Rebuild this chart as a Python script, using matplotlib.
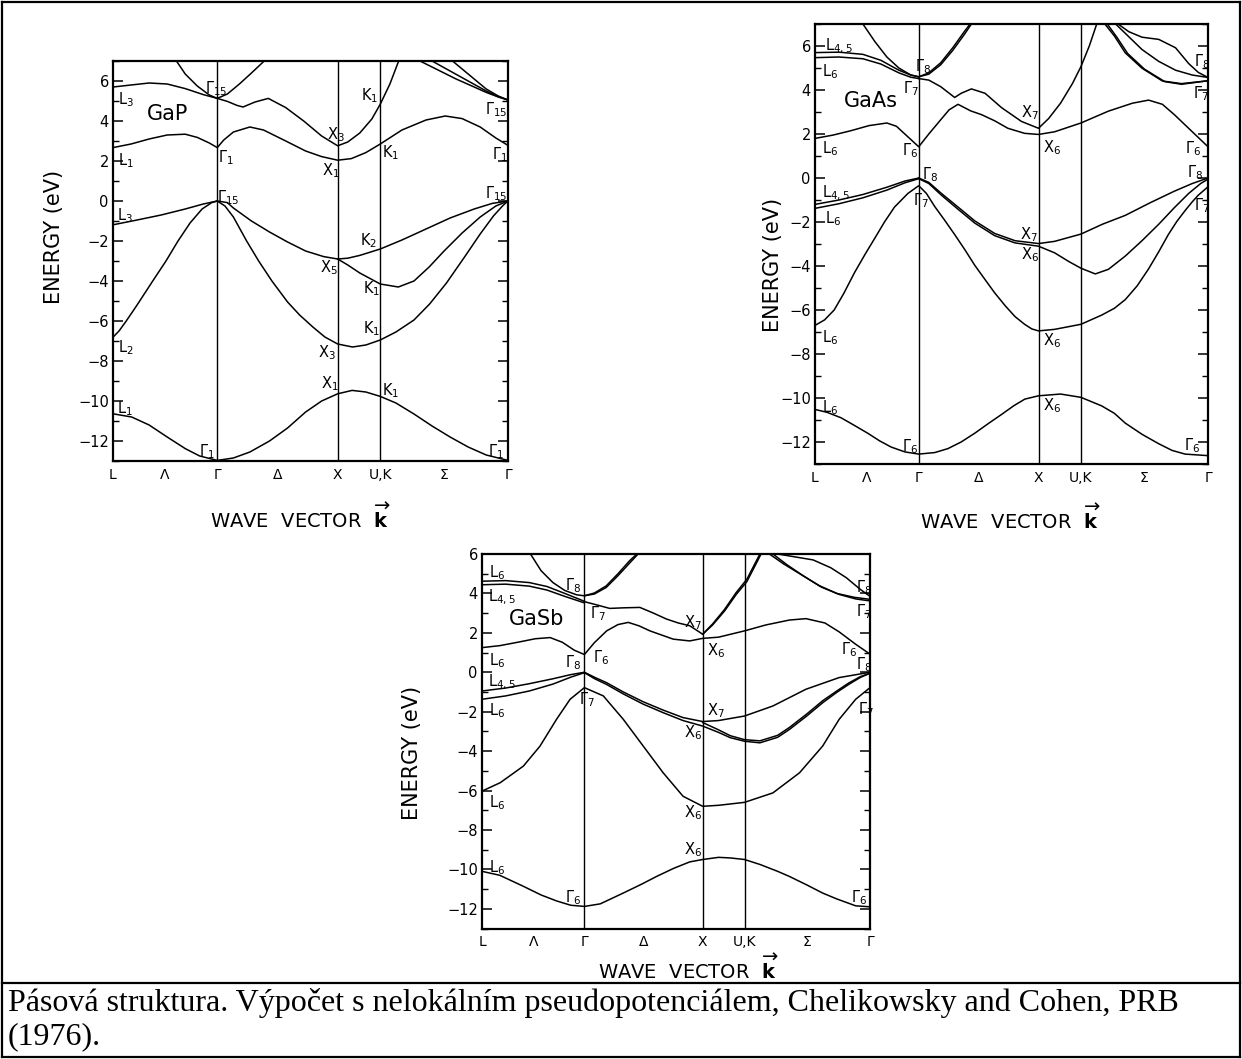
import numpy as np
import matplotlib
matplotlib.use('Agg')
import matplotlib.pyplot as plt
from matplotlib.lines import Line2D
from matplotlib.ticker import MultipleLocator

W, H = 1242, 1059

# ================= PATH (units of 2*pi/a) =================
K_L, K_G, K_X, K_U, K_G2 = 0.0, 0.866, 1.866, 2.220, 3.281
XTICK_POS = [K_L, (K_L + K_G) / 2, K_G, (K_G + K_X) / 2, K_X, K_U, (K_U + K_G2) / 2, K_G2]
XTICK_LAB = ['L', 'Λ', 'Γ', 'Δ', 'X', 'U,K', 'Σ', 'Γ']
YTICKS = [6, 4, 2, 0, -2, -4, -6, -8, -10, -12]

# ================= GaP =================
GAP_VALENCE = [
    [(0, -10.64), (0.155, -10.80), (0.30, -11.20), (0.45, -11.80), (0.60, -12.38), (0.72, -12.75),
     (0.866, -12.97), (1.00, -12.85), (1.137, -12.55), (1.30, -12.00), (1.45, -11.35), (1.60, -10.55),
     (1.733, -10.00), (1.866, -9.64), (1.986, -9.47), (2.10, -9.55), (2.22, -9.77), (2.35, -10.10),
     (2.50, -10.65), (2.65, -11.25), (2.80, -11.80), (2.95, -12.30), (3.10, -12.70), (3.281, -12.97)],
    [(0, -6.81), (0.05, -6.50), (0.11, -6.00), (0.20, -5.20), (0.33, -4.00), (0.44, -3.00), (0.54, -2.00),
     (0.64, -1.10), (0.74, -0.40), (0.82, -0.08), (0.866, 0.0), (0.93, -0.25), (1.00, -0.80),
     (1.11, -2.00), (1.21, -3.00), (1.32, -4.00), (1.45, -5.05), (1.55, -5.70), (1.66, -6.30),
     (1.76, -6.80), (1.866, -7.15), (1.99, -7.30), (2.10, -7.20), (2.22, -6.95), (2.35, -6.55),
     (2.50, -5.95), (2.63, -5.15), (2.77, -4.10), (2.92, -2.80), (3.05, -1.65), (3.16, -0.75),
     (3.24, -0.22), (3.281, 0.0)],
    [(0, -1.19), (0.20, -0.95), (0.40, -0.70), (0.60, -0.40), (0.75, -0.15), (0.866, 0.0)],
    [(0.866, 0.0), (0.95, -0.08), (1.00, -0.35), (1.15, -1.00), (1.30, -1.55), (1.45, -2.05), (1.60, -2.50),
     (1.75, -2.78), (1.866, -2.90), (1.95, -2.86), (2.05, -2.72), (2.22, -2.40), (2.40, -1.95),
     (2.60, -1.40), (2.80, -0.85), (3.00, -0.40), (3.15, -0.12), (3.281, 0.0)],
    [(1.866, -2.90), (1.95, -3.20), (2.05, -3.60), (2.22, -4.15), (2.37, -4.30), (2.50, -4.00),
     (2.626, -3.30), (2.75, -2.50), (2.90, -1.60), (3.05, -0.80), (3.18, -0.25), (3.281, 0.0)],
]
GAP_CONDUCTION = [
    [(0, 2.67), (0.15, 2.85), (0.30, 3.10), (0.45, 3.30), (0.60, 3.34), (0.70, 3.18), (0.80, 2.90),
     (0.866, 2.67), (0.92, 3.05), (1.00, 3.45), (1.137, 3.70), (1.25, 3.55), (1.435, 3.00), (1.60, 2.50),
     (1.733, 2.22), (1.866, 2.04), (1.98, 2.12), (2.10, 2.42), (2.22, 2.85), (2.40, 3.55), (2.60, 4.05),
     (2.76, 4.25), (2.90, 4.12), (3.05, 3.70), (3.18, 3.15), (3.281, 2.78)],
    [(0, 5.70), (0.15, 5.80), (0.30, 5.90), (0.45, 5.85), (0.60, 5.62), (0.75, 5.32), (0.866, 5.13)],
    [(0.866, 5.13), (0.95, 4.98), (1.03, 4.78), (1.08, 4.70), (1.18, 4.95), (1.29, 5.13), (1.435, 4.67),
     (1.584, 4.00), (1.733, 3.25), (1.866, 2.76), (1.95, 2.95), (2.05, 3.40), (2.15, 4.10), (2.22, 4.84),
     (2.30, 5.85), (2.373, 7.0)],
    [(0.527, 7.0), (0.60, 6.35), (0.70, 5.75), (0.80, 5.30), (0.866, 5.13), (0.95, 5.35), (1.05, 5.85),
     (1.15, 6.40), (1.256, 7.0)],
    [(2.55, 7.0), (2.70, 6.55), (2.85, 6.10), (3.00, 5.70), (3.10, 5.43), (3.20, 5.20), (3.281, 5.05)],
    [(2.65, 7.0), (2.80, 6.50), (2.95, 6.00), (3.10, 5.50), (3.20, 5.22), (3.281, 5.05)],
    [(2.82, 7.0), (2.96, 6.30), (3.10, 5.60), (3.20, 5.25), (3.281, 5.05)],
]
GAP_LABELS = [
    (0.11, 5.08, r'$\mathrm{L}_3$'), (0.86, 5.63, r'$\Gamma_{15}$'), (2.13, 5.25, r'$\mathrm{K}_1$'),
    (1.85, 3.34, r'$\mathrm{X}_3$'), (3.18, 4.59, r'$\Gamma_{15}$'), (0.11, 2.04, r'$\mathrm{L}_1$'),
    (0.94, 2.17, r'$\Gamma_1$'), (1.81, 1.54, r'$\mathrm{X}_1$'), (2.31, 2.42, r'$\mathrm{K}_1$'),
    (3.21, 2.34, r'$\Gamma_1$'), (0.96, 0.18, r'$\Gamma_{15}$'), (3.18, 0.38, r'$\Gamma_{15}$'),
    (0.10, -0.74, r'$\mathrm{L}_3$'), (2.12, -1.99, r'$\mathrm{K}_2$'), (1.79, -3.32, r'$\mathrm{X}_5$'),
    (2.15, -4.40, r'$\mathrm{K}_1$'), (2.15, -6.40, r'$\mathrm{K}_1$'), (0.11, -7.31, r'$\mathrm{L}_2$'),
    (1.78, -7.56, r'$\mathrm{X}_3$'), (1.80, -9.14, r'$\mathrm{X}_1$'), (2.31, -9.47, r'$\mathrm{K}_1$'),
    (0.10, -10.39, r'$\mathrm{L}_1$'), (0.78, -12.55, r'$\Gamma_1$'), (3.18, -12.55, r'$\Gamma_1$'),
]

# ================= GaAs =================
GAAS_VALENCE = [
    [(0, -10.52), (0.10, -10.65), (0.218, -10.90), (0.33, -11.25), (0.44, -11.60), (0.54, -11.95),
     (0.636, -12.23), (0.75, -12.45), (0.866, -12.55), (1.00, -12.48), (1.11, -12.30), (1.22, -12.00),
     (1.334, -11.60), (1.45, -11.15), (1.557, -10.75), (1.66, -10.35), (1.752, -10.05), (1.866, -9.90),
     (2.05, -9.82), (2.22, -9.97), (2.394, -10.36), (2.50, -10.70), (2.59, -11.14), (2.73, -11.65),
     (2.87, -12.08), (2.98, -12.38), (3.09, -12.55), (3.281, -12.62)],
    [(0, -6.70), (0.08, -6.45), (0.16, -6.00), (0.24, -5.25), (0.33, -4.30), (0.42, -3.45), (0.50, -2.73),
     (0.58, -2.00), (0.664, -1.32), (0.776, -0.70), (0.866, -0.35), (0.93, -0.70), (1.00, -1.30),
     (1.08, -1.90), (1.166, -2.57), (1.25, -3.25), (1.334, -3.97), (1.42, -4.62), (1.50, -5.22),
     (1.59, -5.82), (1.67, -6.30), (1.75, -6.65), (1.81, -6.86), (1.866, -6.95), (2.00, -6.88),
     (2.22, -6.65), (2.394, -6.23), (2.50, -5.92), (2.59, -5.53), (2.69, -4.90), (2.785, -4.13),
     (2.87, -3.35), (2.95, -2.57), (3.02, -1.98), (3.09, -1.48), (3.15, -1.08), (3.20, -0.78),
     (3.281, -0.40)],
    [(0, -1.20), (0.20, -1.00), (0.40, -0.75), (0.60, -0.42), (0.75, -0.14), (0.866, 0.0)],
    [(0, -1.38), (0.20, -1.17), (0.40, -0.90), (0.60, -0.55), (0.75, -0.22), (0.866, -0.03)],
    [(0.866, 0.0), (0.95, -0.20), (1.055, -0.70), (1.194, -1.32), (1.334, -1.95), (1.50, -2.52),
     (1.67, -2.85), (1.866, -2.98), (2.00, -2.88), (2.22, -2.55), (2.40, -2.10), (2.59, -1.70),
     (2.80, -1.12), (3.00, -0.60), (3.15, -0.25), (3.281, 0.0)],
    [(0.866, -0.03), (0.95, -0.25), (1.055, -0.78), (1.194, -1.42), (1.334, -2.05), (1.50, -2.62),
     (1.67, -2.95), (1.866, -3.10), (2.00, -3.40), (2.12, -3.80), (2.22, -4.10), (2.34, -4.36),
     (2.45, -4.15), (2.59, -3.55), (2.73, -2.85), (2.87, -2.10), (3.00, -1.35), (3.12, -0.70),
     (3.22, -0.25), (3.281, -0.05)],
]
GAAS_CONDUCTION = [
    [(0, 1.80), (0.15, 1.95), (0.30, 2.15), (0.45, 2.38), (0.60, 2.50), (0.68, 2.35), (0.76, 1.95),
     (0.866, 1.42), (0.95, 2.00), (1.05, 2.65), (1.12, 3.10), (1.194, 3.35), (1.30, 3.05), (1.39, 2.88),
     (1.50, 2.60), (1.61, 2.26), (1.75, 2.03), (1.866, 1.98), (2.00, 2.10), (2.22, 2.50), (2.45, 3.04),
     (2.65, 3.40), (2.785, 3.54), (2.90, 3.35), (3.00, 2.88), (3.15, 2.10), (3.281, 1.42)],
    [(0, 5.70), (0.20, 5.72), (0.40, 5.62), (0.55, 5.35), (0.70, 4.90), (0.80, 4.68), (0.866, 4.60)],
    [(0, 5.47), (0.20, 5.50), (0.40, 5.42), (0.55, 5.18), (0.70, 4.78), (0.80, 4.58), (0.866, 4.52)],
    [(0.40, 7.0), (0.50, 6.20), (0.60, 5.50), (0.70, 5.00), (0.80, 4.68), (0.866, 4.60), (0.95, 4.72),
     (1.05, 5.15), (1.15, 5.80), (1.25, 6.55), (1.306, 7.0)],
    [(0.866, 4.60), (0.95, 4.78), (1.05, 5.24), (1.15, 5.92), (1.25, 6.68), (1.295, 7.0)],
    [(0.866, 4.52), (0.95, 4.45), (1.05, 4.15), (1.166, 3.66), (1.22, 3.85), (1.306, 4.05), (1.42, 3.85),
     (1.557, 3.20), (1.724, 2.57), (1.866, 2.26), (1.95, 2.70), (2.05, 3.40), (2.15, 4.30), (2.22, 5.06),
     (2.29, 6.00), (2.352, 7.0)],
    [(2.42, 7.0), (2.50, 6.45), (2.59, 5.69), (2.73, 4.99), (2.90, 4.41), (3.06, 4.29), (3.281, 4.42)],
    [(2.44, 7.0), (2.52, 6.40), (2.61, 5.66), (2.75, 4.95), (2.92, 4.38), (3.06, 4.26), (3.281, 4.42)],
    [(2.51, 7.0), (2.73, 5.84), (2.87, 5.30), (3.01, 4.90), (3.15, 4.68), (3.281, 4.57)],
    [(2.53, 7.0), (2.62, 6.65), (2.73, 6.40), (2.87, 6.30), (3.01, 5.92), (3.12, 5.20), (3.20, 4.80),
     (3.281, 4.57)],
]
GAAS_LABELS = [
    (0.20, 6.00, r'$\mathrm{L}_{4,5}$'), (0.13, 4.83, r'$\mathrm{L}_6$'), (0.90, 5.06, r'$\Gamma_8$'),
    (0.80, 4.05, r'$\Gamma_7$'), (1.79, 2.96, r'$\mathrm{X}_7$'), (1.975, 1.40, r'$\mathrm{X}_6$'),
    (0.13, 1.32, r'$\mathrm{L}_6$'), (0.79, 1.25, r'$\Gamma_6$'), (3.16, 1.32, r'$\Gamma_6$'),
    (3.23, 5.30, r'$\Gamma_8$'), (3.22, 3.82, r'$\Gamma_7$'), (0.957, 0.16, r'$\Gamma_8$'),
    (0.887, -1.01, r'$\Gamma_7$'), (0.17, -0.70, r'$\mathrm{L}_{4,5}$'), (0.15, -1.87, r'$\mathrm{L}_6$'),
    (3.175, 0.23, r'$\Gamma_8$'), (3.23, -1.25, r'$\Gamma_7$'), (1.786, -2.57, r'$\mathrm{X}_7$'),
    (1.794, -3.50, r'$\mathrm{X}_6$'), (0.13, -7.25, r'$\mathrm{L}_6$'), (1.975, -7.40, r'$\mathrm{X}_6$'),
    (0.13, -10.44, r'$\mathrm{L}_6$'), (1.975, -10.36, r'$\mathrm{X}_6$'), (0.79, -12.23, r'$\Gamma_6$'),
    (3.15, -12.15, r'$\Gamma_6$'),
]

# ================= GaSb =================
GASB_VALENCE = [
    [(0, -10.10), (0.15, -10.30), (0.35, -10.86), (0.50, -11.30), (0.63, -11.60), (0.75, -11.82),
     (0.866, -11.88), (1.00, -11.75), (1.195, -11.20), (1.35, -10.75), (1.476, -10.36), (1.62, -9.95),
     (1.757, -9.62), (1.866, -9.50), (2.00, -9.39), (2.10, -9.42), (2.22, -9.50), (2.35, -9.75),
     (2.50, -10.10), (2.60, -10.36), (2.75, -10.80), (2.88, -11.20), (3.00, -11.50), (3.16, -11.85),
     (3.281, -11.90)],
    [(0, -6.03), (0.155, -5.60), (0.35, -4.76), (0.49, -3.75), (0.63, -2.39), (0.745, -1.37), (0.866, -0.78),
     (1.026, -1.20), (1.195, -2.39), (1.364, -3.75), (1.532, -5.10), (1.70, -6.29), (1.866, -6.80),
     (2.00, -6.75), (2.22, -6.60), (2.46, -6.12), (2.685, -5.10), (2.88, -3.75), (3.02, -2.39),
     (3.16, -1.37), (3.281, -0.78)],
    [(0, -0.95), (0.20, -0.80), (0.40, -0.58), (0.60, -0.33), (0.75, -0.12), (0.866, 0.0)],
    [(0, -1.37), (0.20, -1.20), (0.40, -0.95), (0.60, -0.60), (0.75, -0.25), (0.866, -0.02)],
    [(0.866, 0.0), (0.95, -0.25), (1.054, -0.53), (1.195, -1.00), (1.364, -1.50), (1.532, -1.92),
     (1.70, -2.30), (1.866, -2.50), (2.00, -2.45), (2.22, -2.22), (2.46, -1.71), (2.74, -0.86),
     (3.02, -0.27), (3.281, 0.0)],
    [(0.866, -0.02), (0.95, -0.32), (1.054, -0.62), (1.195, -1.10), (1.364, -1.62), (1.532, -2.05),
     (1.70, -2.45), (1.866, -2.73), (2.00, -3.05), (2.10, -3.32), (2.22, -3.50), (2.35, -3.58),
     (2.50, -3.30), (2.60, -2.90), (2.75, -2.20), (2.88, -1.55), (3.00, -1.02), (3.10, -0.62),
     (3.20, -0.26), (3.281, -0.05)],
    [(1.866, -2.55), (2.00, -2.92), (2.10, -3.22), (2.22, -3.42), (2.35, -3.48), (2.50, -3.20),
     (2.60, -2.80), (2.75, -2.10), (2.88, -1.45), (3.00, -0.95), (3.10, -0.55), (3.20, -0.22),
     (3.281, -0.05)],
]
GASB_CONDUCTION = [
    [(0, 1.25), (0.15, 1.35), (0.30, 1.52), (0.45, 1.70), (0.576, 1.76), (0.68, 1.52), (0.78, 1.12),
     (0.866, 0.90), (0.95, 1.50), (1.054, 2.10), (1.15, 2.42), (1.237, 2.53), (1.33, 2.35), (1.42, 2.10),
     (1.617, 1.68), (1.757, 1.59), (1.866, 1.72), (2.00, 1.78), (2.22, 2.10), (2.40, 2.40), (2.60, 2.65),
     (2.74, 2.72), (2.90, 2.50), (3.02, 2.05), (3.16, 1.42), (3.281, 0.92)],
    [(0, 4.62), (0.20, 4.65), (0.40, 4.55), (0.55, 4.35), (0.70, 4.00), (0.866, 3.60)],
    [(0, 4.44), (0.20, 4.47), (0.40, 4.37), (0.55, 4.17), (0.70, 3.85), (0.866, 3.52)],
    [(0.41, 6.0), (0.50, 5.15), (0.60, 4.55), (0.70, 4.15), (0.80, 3.93), (0.866, 3.88), (0.95, 3.97),
     (1.05, 4.30), (1.15, 4.90), (1.25, 5.55), (1.32, 6.0)],
    [(0.866, 3.88), (0.95, 4.02), (1.05, 4.38), (1.15, 5.00), (1.25, 5.67), (1.31, 6.0)],
    [(0.866, 3.58), (0.95, 3.45), (1.08, 3.24), (1.20, 3.27), (1.335, 3.29), (1.45, 3.00), (1.56, 2.70),
     (1.66, 2.50), (1.757, 2.36), (1.866, 1.93), (1.95, 2.40), (2.05, 3.10), (2.15, 3.95), (2.24, 4.60),
     (2.30, 5.30), (2.36, 6.0)],
    [(1.866, 1.93), (1.95, 2.45), (2.05, 3.18), (2.15, 4.05), (2.24, 4.72), (2.30, 5.42), (2.35, 6.0)],
    [(2.43, 6.0), (2.55, 5.50), (2.70, 4.95), (2.85, 4.40), (3.00, 4.00), (3.15, 3.80), (3.281, 3.70)],
    [(2.46, 6.0), (2.58, 5.45), (2.72, 4.88), (2.87, 4.32), (3.02, 3.95), (3.16, 3.72), (3.281, 3.62)],
    [(2.50, 6.0), (2.65, 5.85), (2.80, 5.70), (2.95, 5.30), (3.08, 4.80), (3.20, 4.20), (3.281, 3.85)],
]
GASB_LABELS = [
    (0.13, 5.07, r'$\mathrm{L}_6$'), (0.17, 3.80, r'$\mathrm{L}_{4,5}$'), (0.77, 4.39, r'$\Gamma_8$'),
    (0.98, 2.95, r'$\Gamma_7$'), (1.785, 2.53, r'$\mathrm{X}_7$'), (1.98, 1.08, r'$\mathrm{X}_6$'),
    (0.13, 0.58, r'$\mathrm{L}_6$'), (0.77, 0.49, r'$\Gamma_8$'), (1.01, 0.75, r'$\Gamma_6$'),
    (3.10, 1.17, r'$\Gamma_6$'), (3.23, 0.41, r'$\Gamma_8$'), (3.23, 4.30, r'$\Gamma_8$'),
    (3.23, 3.10, r'$\Gamma_7$'), (0.17, -0.53, r'$\mathrm{L}_{4,5}$'), (0.13, -1.97, r'$\mathrm{L}_6$'),
    (0.885, -1.37, r'$\Gamma_7$'), (1.98, -1.97, r'$\mathrm{X}_7$'), (1.785, -3.07, r'$\mathrm{X}_6$'),
    (3.25, -1.90, r'$\Gamma_7$'), (0.13, -6.63, r'$\mathrm{L}_6$'), (1.785, -7.14, r'$\mathrm{X}_6$'),
    (1.785, -9.00, r'$\mathrm{X}_6$'), (0.13, -9.93, r'$\mathrm{L}_6$'), (0.77, -11.46, r'$\Gamma_6$'),
    (3.19, -11.46, r'$\Gamma_6$'),
]

CAPTION = ['Pásová struktura. Výpočet s nelokálním pseudopotenciálem, Chelikowsky and Cohen, PRB',
           '(1976).']


def px_rect(left, top, right, bottom):
    return [left / W, 1 - bottom / H, (right - left) / W, (bottom - top) / H]


def draw_panel(fig, rect, ytop, bands, labels, name, name_xy, ylab_xy, xlab_xy):
    ax = fig.add_axes(px_rect(*rect))
    for band in bands:
        arr = np.array(band)
        ax.plot(arr[:, 0], arr[:, 1], color='black', lw=1.1, solid_joinstyle='round')
    for xv in (K_G, K_X, K_U):
        ax.axvline(xv, color='black', lw=1.0)
    ax.set_xlim(K_L, K_G2)
    ax.set_ylim(-13, ytop)
    ax.set_yticks(YTICKS)
    ax.set_yticklabels([str(v).replace('-', '\u2212') for v in YTICKS], fontsize=10.5)
    ax.yaxis.set_minor_locator(MultipleLocator(1))
    ax.tick_params(axis='y', which='major', direction='in', length=7, width=1.1,
                   left=True, right=True, pad=3)
    ax.tick_params(axis='y', which='minor', direction='in', length=4, width=1.0,
                   left=True, right=True)
    ax.set_xticks(XTICK_POS)
    ax.set_xticklabels(XTICK_LAB, fontsize=10)
    ax.tick_params(axis='x', length=0, pad=5)
    for sp in ax.spines.values():
        sp.set_linewidth(1.6)
    for x, y, t in labels:
        ax.text(x, y, t, fontsize=10.5, ha='center', va='center')
    ax.text(name_xy[0], name_xy[1], name, fontsize=15, ha='center', va='center')
    fig.text(ylab_xy[0] / W, 1 - ylab_xy[1] / H, 'ENERGY (eV)', rotation=90,
             fontsize=15, ha='center', va='center')
    fig.text(xlab_xy[0] / W, 1 - xlab_xy[1] / H, r'WAVE  VECTOR  $\overrightarrow{\mathbf{k}}$',
             fontsize=14, ha='center', va='center')
    return ax


fig = plt.figure(figsize=(W / 100, H / 100), dpi=100)

draw_panel(fig, (113, 61, 508, 461), 7, GAP_VALENCE + GAP_CONDUCTION, GAP_LABELS,
           'GaP', (0.45, 4.34), (54, 237), (300, 517))
draw_panel(fig, (815, 24, 1208, 464), 7, GAAS_VALENCE + GAAS_CONDUCTION, GAAS_LABELS,
           'GaAs', (0.47, 3.5), (773, 265), (1010, 518))
draw_panel(fig, (482, 554, 870, 928.5), 6, GASB_VALENCE + GASB_CONDUCTION, GASB_LABELS,
           'GaSb', (0.46, 2.7), (412, 753), (688, 968))

# outer frame and caption separator
frame = dict(color='black', lw=1.6, transform=fig.transFigure)
fig.add_artist(Line2D([2 / W, 1240 / W], [1 - 2 / H, 1 - 2 / H], **frame))
fig.add_artist(Line2D([2 / W, 1240 / W], [1 - 1057 / H, 1 - 1057 / H], **frame))
fig.add_artist(Line2D([2 / W, 2 / W], [1 - 2 / H, 1 - 1057 / H], **frame))
fig.add_artist(Line2D([1240 / W, 1240 / W], [1 - 2 / H, 1 - 1057 / H], **frame))
fig.add_artist(Line2D([2 / W, 1240 / W], [1 - 983 / H, 1 - 983 / H], **frame))

fig.text(8 / W, 1 - 1003 / H, CAPTION[0], fontsize=23, family='Liberation Serif',
         ha='left', va='center')
fig.text(8 / W, 1 - 1037 / H, CAPTION[1], fontsize=23, family='Liberation Serif',
         ha='left', va='center')

fig.savefig('out.png', dpi=100, facecolor='white')
